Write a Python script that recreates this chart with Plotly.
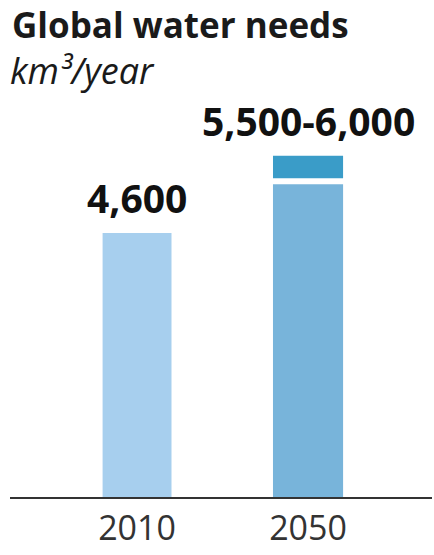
import plotly.graph_objects as go

years = ["2010", "2050"]
base_values = [4600, 5500]
range_low = 5500
range_high = 6000
title_text = "Global water needs"
unit_text = "km³/year"

c_2010 = "#a7cfee"
c_2050 = "#78b4da"
c_top = "#3a9cc8"
font_family = "Open Sans, Noto Sans, sans-serif"

fig = go.Figure()
fig.add_trace(go.Bar(
    x=years, y=base_values,
    marker=dict(color=[c_2010, c_2050], line=dict(width=0)),
    width=[0.403, 0.41], hoverinfo="skip",
))
fig.add_trace(go.Bar(
    x=[years[1]], y=[range_high - range_low], base=[range_low],
    marker=dict(color=c_top, line=dict(color="white", width=6)),
    width=0.445, hoverinfo="skip",
))

labels = [f"{base_values[0]:,}", f"{range_low:,}-{range_high:,}"]
tops = [base_values[0], range_high]
sizes = [39, 39]
shifts = [7, 4]
for i, (lab, top) in enumerate(zip(labels, tops)):
    fig.add_annotation(
        x=i, y=top, xref="x", yref="y", text=f"<b>{lab}</b>",
        showarrow=False, yanchor="bottom", yshift=shifts[i],
        font=dict(family=font_family, size=sizes[i], color="#111111"),
    )

fig.add_annotation(
    x=0, y=1, xref="paper", yref="paper", xanchor="left", yanchor="bottom",
    xshift=0, yshift=50, text=f"<b>{title_text}</b>", showarrow=False,
    font=dict(family=font_family, size=35, color="#1a1a1a"),
)
fig.add_annotation(
    x=0, y=1, xref="paper", yref="paper", xanchor="left", yanchor="bottom",
    xshift=-2, yshift=3, text=f"<i>{unit_text}</i>", showarrow=False,
    font=dict(family=font_family, size=36, color="#1a1a1a"),
)

fig.update_layout(
    width=434, height=555,
    margin=dict(l=10, r=2, t=100, b=58),
    paper_bgcolor="white", plot_bgcolor="white",
    barmode="overlay", showlegend=False,
    font=dict(family=font_family),
)
fig.update_xaxes(
    type="category", range=[-0.743, 1.725],
    showline=True, linecolor="#333333", linewidth=2,
    ticks="", showgrid=False,
    tickfont=dict(family=font_family, size=34, color="#333333"),
)
fig.update_yaxes(
    range=[0, 6917], visible=False, showgrid=False, zeroline=False,
)

fig.write_html(
    "out.html",
    config={"displayModeBar": False, "staticPlot": True},
    post_script="document.body.style.margin='0';",
)
